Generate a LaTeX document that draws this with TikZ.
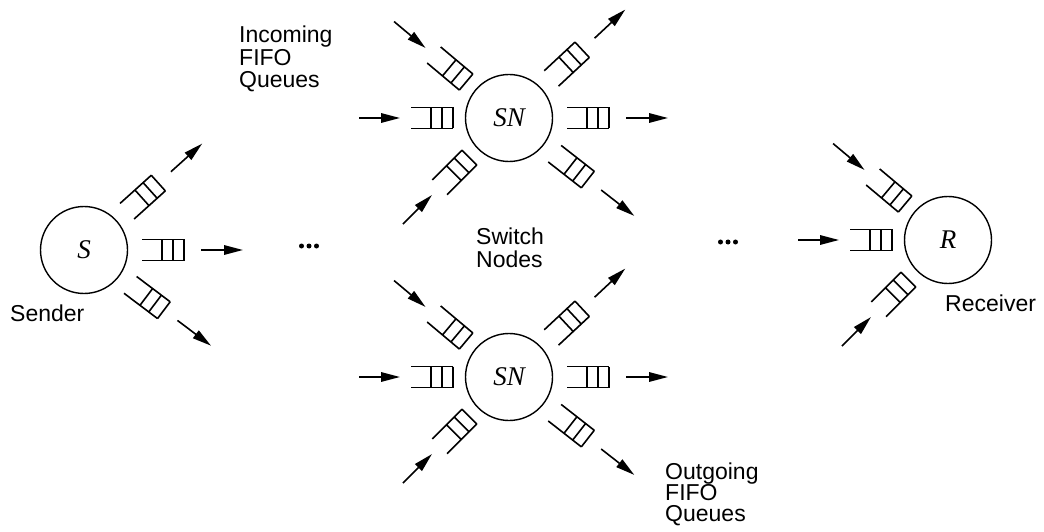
\documentclass[tikz,border=0pt]{standalone}
\usepackage{fontspec}
\setmainfont{Liberation Sans}
\newfontfamily\tms{Liberation Serif}
\usetikzlibrary{arrows.meta}
\tikzset{
  qline/.style={line width=1.6pt},
  arr/.style={line width=1.6pt,-{Triangle[length=19pt,width=9.5pt]}},
  station/.style={circle,draw,line width=1.4pt,minimum size=87pt,inner sep=0pt,font=\tms\itshape\fontsize{27}{27}\selectfont},
  lbl/.style={anchor=north west,align=left,inner sep=0pt,font=\fontsize{23}{22.5}\selectfont},
  lbltight/.style={lbl,font=\fontsize{23}{21}\selectfont},
  dotp/.style={fill=black,draw=none}
}
\newcommand\qout[3]{%
  \begin{scope}[shift={(#1)},rotate=#2]
    \draw[qline] (58,10.5) -- (100,10.5) (58,-10.5) -- (100,-10.5)
      (78,-10.5) -- (78,10.5) (89,-10.5) -- (89,10.5) (100,-10.5) -- (100,10.5);
    \coordinate (#3a) at (117,0);
    \coordinate (#3b) at (159,0);
    \draw[arr] (#3a) -- (#3b);
  \end{scope}}
\newcommand\qin[3]{%
  \begin{scope}[shift={(#1)},rotate=#2]
    \draw[qline] (56,10.5) -- (98,10.5) (56,-10.5) -- (98,-10.5)
      (56,-10.5) -- (56,10.5) (67,-10.5) -- (67,10.5) (78,-10.5) -- (78,10.5);
    \coordinate (#3a) at (150,0);
    \coordinate (#3b) at (109,0);
    \draw[arr] (#3a) -- (#3b);
  \end{scope}}
\newcommand\threedots[2]{%
  \fill[dotp] (#1-7.5,#2) circle (2.5) (#1,#2) circle (2.5) (#1+7.5,#2) circle (2.5);}
\begin{document}
\begin{tikzpicture}[x=1pt,y=1pt]
\useasboundingbox (0,0) rectangle (1044,531);
\node[station] (S) at (84,281) {S};
\node[station] (SN1) at (509,413) {SN};
\node[station] (SN2) at (509,154) {SN};
\node[station] (R) at (948,291) {R};
% sender
\qout{S}{42}{s1}\qout{S}{0}{s2}\qout{S}{-37}{s3}
% switch node 1
\qin{SN1}{140}{a1}\qin{SN1}{180}{a2}\qin{SN1}{225}{a3}
\qout{SN1}{43}{a4}\qout{SN1}{0}{a5}\qout{SN1}{-38}{a6}
% switch node 2
\qin{SN2}{140}{b1}\qin{SN2}{180}{b2}\qin{SN2}{225}{b3}
\qout{SN2}{43}{b4}\qout{SN2}{0}{b5}\qout{SN2}{-38}{b6}
% receiver
\qin{R}{140}{r1}\qin{R}{180}{r2}\qin{R}{225}{r3}
% dots
\threedots{309}{285}
\threedots{728}{289}
% labels
\node[lbl] (inc) at (239,505) {Incoming\\FIFO\\Queues};
\node[lbltight] (outg) at (665,68) {Outgoing\\FIFO\\Queues};
\node[lbl] (sw) at (476,303) {Switch\\Nodes};
\node[lbl] (snd) at (10,226) {Sender};
\node[lbl] (rcv) at (945,236) {Receiver};
\end{tikzpicture}
\end{document}
